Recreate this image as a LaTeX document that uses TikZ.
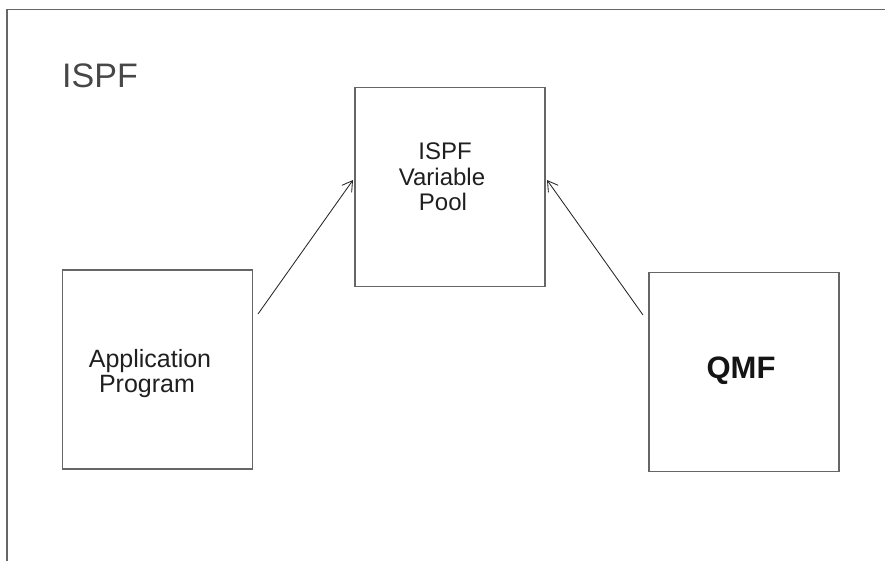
\documentclass[tikz,border=0pt]{standalone}
\usepackage{fontspec}
\setmainfont{Liberation Sans}
\usetikzlibrary{arrows.meta}
\begin{document}
\begin{tikzpicture}[x=1pt,y=-1pt,
  boxshape/.style={draw=black!60,line width=1.3pt,minimum width=190pt,minimum height=199pt,inner sep=0pt,outer sep=0pt},
  frameline/.style={draw=black!60,line width=1.4pt},
  arr/.style={draw=black!85,line width=0.85pt,-{Straight Barb[length=10pt,width=12pt,line width=0.85pt]}},
  lbl/.style={font=\fontsize{24}{25}\selectfont,anchor=base,inner sep=0pt,text=black!88},
  lblb/.style={font=\fontsize{25}{25}\selectfont,anchor=base,inner sep=0pt,text=black!88}]
\useasboundingbox (0,0) rectangle (885,561);
% outer frame
\coordinate (fa) at (7,561);
\coordinate (fb) at (7,9.5);
\coordinate (fc) at (885,9.5);
\draw[frameline] (fa) -- (fb) -- (fc);
\node[font=\fontsize{34}{34}\selectfont,text=black!72,anchor=base west,inner sep=0pt] (ispf) at (62,88) {ISPF};
% boxes
\node[boxshape] (pool) at (450,187) {};
\node[boxshape] (app) at (157.5,369.5) {};
\node[boxshape] (qmf) at (744,372) {};
% labels
\node[lbl] (p1) at (445,160) {ISPF};
\node[lbl] (p2) at (442,186) {Variable};
\node[lbl] (p3) at (443,211) {Pool};
\node[lblb] (a1) at (150,367) {Application};
\node[lblb] (a2) at (147,392) {Program};
\node[font=\fontsize{31}{31}\selectfont\bfseries,anchor=base,inner sep=0pt,text=black!92] (q1) at (741,378) {QMF};
% connectors
\coordinate (s1) at (258,314);
\coordinate (t1) at (353,180);
\coordinate (s2) at (643,315);
\coordinate (t2) at (547,180);
\draw[arr] (s1) -- (t1);
\draw[arr] (s2) -- (t2);
\end{tikzpicture}
\end{document}
